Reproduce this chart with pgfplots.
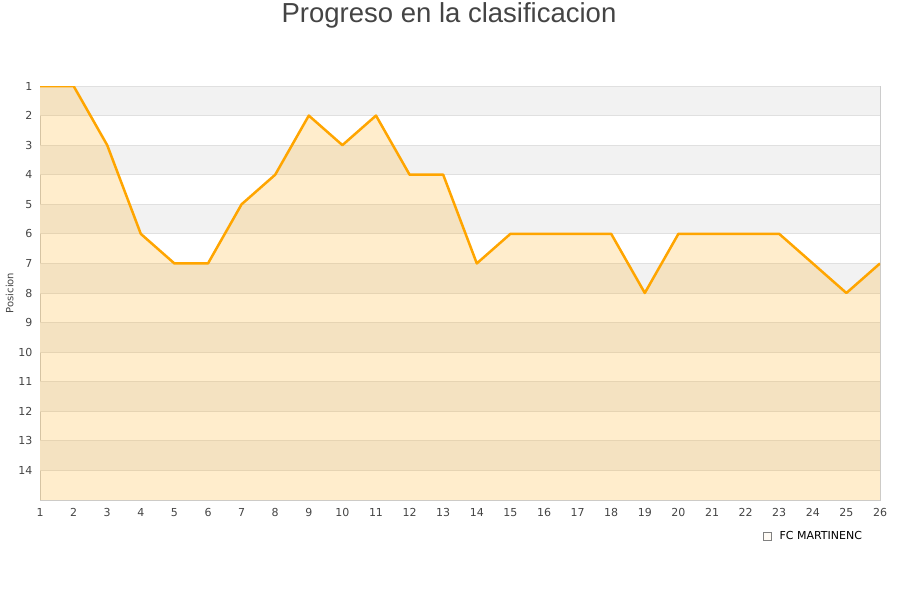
\documentclass[border=0pt]{standalone}
\usepackage{fontspec}
\setmainfont{DejaVu Sans}
\newfontfamily\titlefont{Liberation Sans}
\usepackage{pgfplots}
\pgfplotsset{compat=1.18}
\definecolor{lineor}{HTML}{FFA500}
\definecolor{bandgray}{HTML}{F2F2F2}
\definecolor{gridc}{HTML}{E0E0E0}
\definecolor{axc}{HTML}{CCCCCC}
\definecolor{tickc}{HTML}{444444}
\begin{document}
\begin{tikzpicture}
\path[use as bounding box] (0pt,0pt) rectangle (900pt,600pt);
\node[font=\titlefont\fontsize{27.5}{32}\selectfont, text=tickc] at (449pt,585pt) {Progreso en la clasificacion};
\begin{axis}[
  at={(40pt,100pt)}, anchor=south west, scale only axis,
  width=840pt, height=414pt,
  xmin=1, xmax=26, ymin=1, ymax=15, y dir=reverse,
  xtick={1,...,26}, ytick={1,...,14},
  axis line style={axc}, tick style={draw=none},
  ticklabel style={font=\fontsize{11}{13}\selectfont, text=tickc},
  xticklabel style={yshift=-5pt},
  yticklabel style={xshift=-4pt},
  /pgf/number format/assume math mode=true,
  ylabel={Posicion},
  ylabel style={font=\fontsize{10}{12}\selectfont, text=tickc, at={(axis description cs:-0.036,0.5)}, anchor=center},
  legend style={at={(axis description cs:0.857,-0.087)}, anchor=west, draw=none, fill=none, font=\fontsize{11}{13}\selectfont,
    /tikz/every even column/.append style={column sep=0pt}},
  legend cell align=left,
]
\fill[bandgray] (axis cs:1,1) rectangle (axis cs:26,2);
\fill[bandgray] (axis cs:1,3) rectangle (axis cs:26,4);
\fill[bandgray] (axis cs:1,5) rectangle (axis cs:26,6);
\fill[bandgray] (axis cs:1,7) rectangle (axis cs:26,8);
\fill[bandgray] (axis cs:1,9) rectangle (axis cs:26,10);
\fill[bandgray] (axis cs:1,11) rectangle (axis cs:26,12);
\fill[bandgray] (axis cs:1,13) rectangle (axis cs:26,14);
\pgfplotsinvokeforeach{1,...,14}{\draw[gridc, line width=0.8pt] (axis cs:1,#1) -- (axis cs:26,#1);}
\addplot[fill=lineor, fill opacity=0.2, draw=none,
  legend image code/.code={\draw[fill=lineor!20, draw=gray, line width=0.5pt] (0pt,-4pt) rectangle (8pt,4pt);}]
  coordinates {(1,15) (1,1) (2,1) (3,3) (4,6) (5,7) (6,7) (7,5) (8,4) (9,2) (10,3) (11,2) (12,4) (13,4)
  (14,7) (15,6) (16,6) (17,6) (18,6) (19,8) (20,6) (21,6) (22,6) (23,6) (24,7) (25,8) (26,7) (26,15)} -- cycle;
\addlegendentry{\hspace{6pt}FC MARTINENC}
\addplot[lineor, line width=2.5pt, line join=round, forget plot]
  coordinates {(1,1) (2,1) (3,3) (4,6) (5,7) (6,7) (7,5) (8,4) (9,2) (10,3) (11,2) (12,4) (13,4)
  (14,7) (15,6) (16,6) (17,6) (18,6) (19,8) (20,6) (21,6) (22,6) (23,6) (24,7) (25,8) (26,7)};
\end{axis}
\end{tikzpicture}
\end{document}
